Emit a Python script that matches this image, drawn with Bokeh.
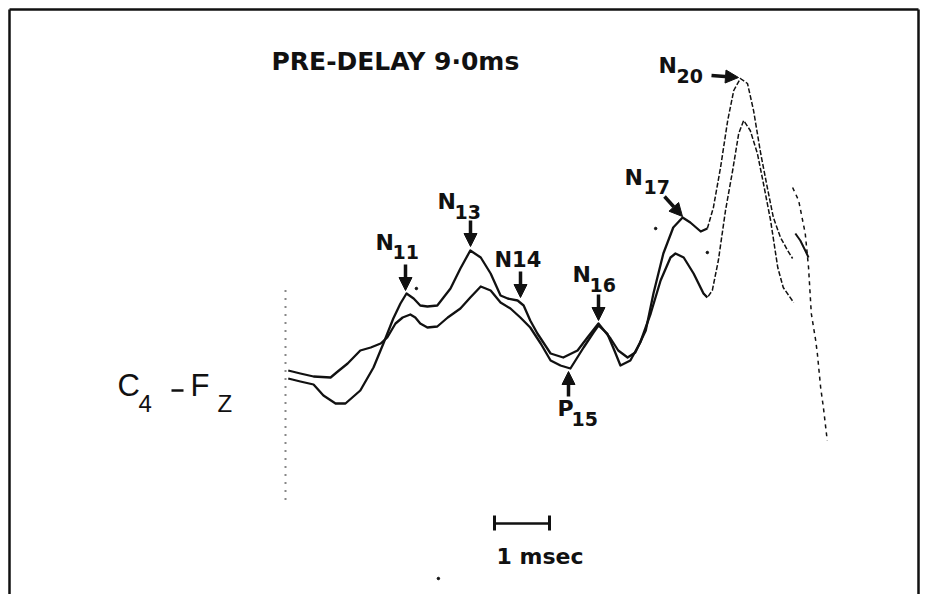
from bokeh.plotting import figure
from bokeh.models import Range1d, Arrow, NormalHead
from bokeh.embed import file_html
from bokeh.resources import INLINE
from bokeh.core.properties import value

# ---------------- data (time in ms, amplitude in arbitrary µV units) ----------------
time_a = [9.05, 9.27, 9.51, 9.82, 9.95, 10.13, 10.36, 10.55, 10.73, 10.85, 11.00, 11.13,
          11.27, 11.36, 11.45, 11.58, 11.76, 11.95, 12.18, 12.36, 12.55, 12.73, 12.91, 13.09,
          13.27, 13.45, 13.64, 13.82, 14.00, 14.18, 14.42, 14.60, 14.69, 14.85, 14.98, 15.09,
          15.27, 15.45, 15.64, 15.82, 16.00, 16.09, 16.24, 16.42, 16.60, 16.67, 16.76, 16.87,
          17.00, 17.13, 17.24, 17.33, 17.45, 17.58, 17.69, 17.82, 17.95, 18.05, 18.24]
amp_a = [0.10, 0.07, 0.04, 0.03, 0.09, 0.17, 0.30, 0.33, 0.37, 0.43, 0.57, 0.63,
         0.66, 0.63, 0.57, 0.53, 0.54, 0.63, 0.72, 0.83, 0.94, 0.90, 0.78, 0.72,
         0.63, 0.53, 0.37, 0.20, 0.15, 0.12, 0.33, 0.48, 0.55, 0.47, 0.30, 0.15,
         0.20, 0.38, 0.67, 1.00, 1.23, 1.27, 1.23, 1.07, 0.87, 0.83, 0.90, 1.20,
         1.70, 2.10, 2.47, 2.60, 2.50, 2.27, 1.97, 1.60, 1.13, 0.93, 0.78]

time_b = [9.05, 9.27, 9.51, 9.69, 9.91, 10.09, 10.36, 10.60, 10.78, 10.96, 11.09, 11.20,
          11.33, 11.45, 11.58, 11.76, 12.00, 12.18, 12.36, 12.55, 12.73, 12.91, 13.04, 13.22,
          13.33, 13.45, 13.58, 13.82, 14.05, 14.31, 14.49, 14.69, 14.91, 15.05, 15.22, 15.36,
          15.55, 15.69, 15.87, 16.05, 16.22, 16.36, 16.55, 16.67, 16.78, 16.91, 17.04, 17.15,
          17.27, 17.40, 17.51, 17.64, 17.76, 17.87, 18.00, 18.13, 18.22]
amp_b = [0.02, -0.01, -0.04, -0.15, -0.23, -0.23, -0.10, 0.13, 0.37, 0.62, 0.77, 0.87,
         0.82, 0.75, 0.74, 0.75, 0.92, 1.12, 1.30, 1.23, 1.07, 0.85, 0.82, 0.80,
         0.75, 0.60, 0.47, 0.27, 0.23, 0.30, 0.43, 0.57, 0.42, 0.30, 0.23, 0.28,
         0.50, 0.87, 1.27, 1.53, 1.63, 1.58, 1.49, 1.52, 1.73, 2.13, 2.60, 2.90,
         3.02, 2.97, 2.70, 2.27, 1.93, 1.63, 1.43, 1.30, 1.22]

sweep_time = [18.22, 18.33, 18.45, 18.51, 18.56, 18.64, 18.67, 18.73, 18.78, 18.85]
sweep_amp = [1.93, 1.80, 1.47, 1.13, 0.67, 0.40, 0.27, -0.07, -0.27, -0.60]
stub_time = [18.27, 18.36, 18.45, 18.51]
stub_amp = [1.47, 1.40, 1.30, 1.23]

# small stray ink specks on the record
speck_time = [11.38, 15.73, 16.67, 11.78]
speck_amp = [0.92, 1.52, 1.28, -1.98]

onset_time = 9.0
onset_amp = [0.90, -1.20]

scale_bar_start = 12.8
scale_bar_len_ms = 1.0
scale_bar_amp = -1.43

title_text = "PRE-DELAY  9\u00b70ms"
peak_names = ["N", "N", "N14", "N", "P", "N", "N"]
peak_subs = ["11", "13", "", "16", "15", "17", "20"]
scale_text = "1 msec"

# ---------------- layout helpers (page pixel -> data) ----------------
W, H = 927, 594
PX_PER_MS = 55.0
PX_PER_UNIT = 100.0
X0 = onset_time - 285 / PX_PER_MS
Y1 = 3.80


def X(px):
    return X0 + px / PX_PER_MS


def Y(py):
    return Y1 - py / PX_PER_UNIT


def YB(py, size):
    # text baseline correction (empirical)
    return Y(py - 0.43 * size)


p = figure(width=W, height=H, output_backend="svg", toolbar_location=None,
           x_range=Range1d(X0, X0 + W / PX_PER_MS), y_range=Range1d(Y1 - H / PX_PER_UNIT, Y1),
           x_axis_type=None, y_axis_type=None, min_border=0,
           background_fill_color="white", border_fill_color="white")
p.outline_line_color = None
p.grid.visible = False

INK = "#111111"

# frame (three sides)
p.segment(x0=[X(9), X(9), X(918)], y0=[Y(9), Y(9), Y(9)],
          x1=[X(918), X(9), X(918)], y1=[Y(9), Y(600), Y(600)],
          line_color=INK, line_width=2.5)

# traces: solid slow part, thin dotted fast part
SPLIT = 16.68
for tt, aa in ((time_a, amp_a), (time_b, amp_b)):
    slow_t = [t for t in tt if t <= SPLIT]
    slow_a = [a for t, a in zip(tt, aa) if t <= SPLIT]
    fast_t = [t for t in tt if t >= SPLIT - 0.1]
    fast_a = [a for t, a in zip(tt, aa) if t >= SPLIT - 0.1]
    p.line(slow_t, slow_a, line_color=INK, line_width=2.3, line_join="round")
    p.line(fast_t, fast_a, line_color=INK, line_width=1.5, line_dash="5 2", line_join="round")

p.line(sweep_time, sweep_amp, line_color=INK, line_width=1.5, line_dash="4 4")
p.line(stub_time, stub_amp, line_color=INK, line_width=2.0)
p.scatter(speck_time, speck_amp, size=2.5, color=INK)

# onset marker (dotted vertical)
p.line([onset_time, onset_time], onset_amp, line_color=INK, line_width=2, line_dash="1 7")

# scale bar
p.segment(x0=[scale_bar_start], y0=[scale_bar_amp], x1=[scale_bar_start + scale_bar_len_ms],
          y1=[scale_bar_amp], line_color=INK, line_width=2.5)
p.segment(x0=[scale_bar_start, scale_bar_start + scale_bar_len_ms],
          y0=[scale_bar_amp + 0.08] * 2,
          x1=[scale_bar_start, scale_bar_start + scale_bar_len_ms],
          y1=[scale_bar_amp - 0.07] * 2, line_color=INK, line_width=3)

FONT = value("DejaVu Sans")

# title
p.text(x=[X(271)], y=[YB(72, 25)], text=[title_text], text_font=FONT, text_font_style="bold",
       text_font_size="25px", text_baseline="alphabetic", text_align="left", text_color=INK)

# scale label
p.text(x=[X(496)], y=[YB(565, 22)], text=[scale_text], text_font=FONT, text_font_style="bold",
       text_font_size="22px", text_baseline="alphabetic", text_align="left", text_color=INK)

# peak labels: (main left px, main baseline px, sub left px, sub baseline px)
label_pos = [(375, 251, 392, 260), (437, 210, 454, 220), (494, 269, 0, 0),
             (572, 283, 589, 293), (557, 417, 571, 427), (624, 186, 643, 195),
             (658, 74, 676, 84)]
main_size = [22, 22, 21, 22, 22, 22, 22]
main_x = [X(a) for a, b, c, d in label_pos]
main_y = [YB(b, s) for (a, b, c, d), s in zip(label_pos, main_size)]
p.text(x=main_x, y=main_y, text=peak_names, text_font=FONT, text_font_style="bold",
       text_font_size=[f"{s}px" for s in main_size], text_baseline="alphabetic",
       text_align="left", text_color=INK)
sub_x = [X(c) for (a, b, c, d), s in zip(label_pos, peak_subs) if s]
sub_y = [YB(d, 19) for (a, b, c, d), s in zip(label_pos, peak_subs) if s]
p.text(x=sub_x, y=sub_y, text=[s for s in peak_subs if s], text_font=FONT,
       text_font_style="bold", text_font_size="19px", text_baseline="alphabetic",
       text_align="left", text_color=INK)

# arrows (start px -> tip px)
arrows = [((405, 264), (405, 290)), ((470, 220), (470, 246)), ((520, 271), (520, 297)),
          ((598, 294), (598, 320)), ((568, 396), (568, 371)), ((664, 196), (682, 216)),
          ((711, 75), (738, 77))]
for (sx, sy), (ex, ey) in arrows:
    p.add_layout(Arrow(end=NormalHead(size=13, fill_color=INK, line_color=INK),
                       x_start=X(sx), y_start=Y(sy), x_end=X(ex), y_end=Y(ey),
                       line_color=INK, line_width=3.5))

# channel label C4 - FZ
LFONT = value("Liberation Sans")
p.text(x=[X(117), X(190)], y=[YB(398, 31)] * 2, text=["C", "F"], text_font=LFONT,
       text_font_size="31px", text_baseline="alphabetic", text_align="left", text_color=INK)
p.text(x=[X(138), X(217)], y=[YB(413, 24)] * 2, text=["4", "Z"], text_font=LFONT,
       text_font_size="24px", text_baseline="alphabetic", text_align="left", text_color=INK)
p.segment(x0=[X(171)], y0=[Y(390)], x1=[X(183)], y1=[Y(390)], line_color=INK, line_width=2.5)

open("out.html", "w").write(file_html(p, INLINE))
